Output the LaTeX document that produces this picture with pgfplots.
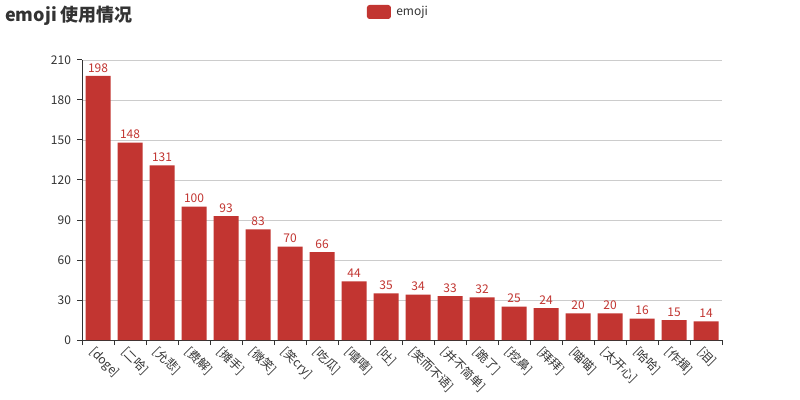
\documentclass[border=0pt]{standalone}
\usepackage{pgfplots}
\pgfplotsset{compat=1.18}
\usepackage{fontspec}
\setmainfont{Noto Sans CJK SC}
\definecolor{barred}{HTML}{C23531}
\definecolor{txt}{HTML}{333333}
\definecolor{gridc}{HTML}{CCCCCC}
\begin{document}
\begin{tikzpicture}
\useasboundingbox (0,0) rectangle (600pt,300pt);
\fill[white] (0,0) rectangle (600pt,300pt);
\node[anchor=base west, text=txt, font=\fontsize{13.5}{16}\selectfont\bfseries, inner sep=0pt] at (3.75pt,283.5pt) {emoji 使用情况};
\begin{axis}[
  at={(61.5pt,45pt)}, anchor=south west,
  scale only axis, width=480pt, height=210pt,
  xmin=-0.5, xmax=19.5, ymin=0, ymax=210,
  ytick={0,30,...,210},
  xtick={0,...,19},
  xticklabels={[doge],[二哈],[允悲],[费解],[摊手],[微笑],[笑cry],[吃瓜],[嘻嘻],[吐],[笑而不语],[并不简单],[跪了],[挖鼻],[拜拜],[喵喵],[太开心],[哈哈],[作揖],[泪]},
  minor xtick={-0.5,0.5,...,19.5},
  major x tick style={draw=none},
  minor tick length=3.75pt,
  major tick length=3.75pt,
  tick align=outside,
  axis x line*=bottom, axis y line*=left,
  axis line style={txt, line width=0.75pt},
  tick style={txt, line width=0.75pt},
  ymajorgrids, grid style={gridc, line width=0.6pt},
  x axis line style={-}, y axis line style={-},
  /pgf/number format/assume math mode=true,
  ticklabel style={font=\fontsize{9}{10}\selectfont, text=txt},
  xticklabel style={rotate=-45, anchor=north west, inner sep=1pt, xshift=-2pt},
  yticklabel style={xshift=-1pt},
  ybar, bar width=18.75pt,
  nodes near coords,
  every node near coord/.append style={font=\fontsize{9}{10}\selectfont, text=barred, inner sep=1.5pt, yshift=1pt},
  legend style={at={(0.497,1)}, anchor=center, yshift=36pt, draw=none, fill=none, font=\fontsize{9}{10}\selectfont, text=txt, inner sep=0pt, nodes={inner xsep=4pt}},
  legend image code/.code={\fill[barred, rounded corners=2pt] (0pt,-5.25pt) rectangle (18pt,5.25pt);},
]
\addplot[fill=barred, draw=none] coordinates {
(0,198) (1,148) (2,131) (3,100) (4,93) (5,83) (6,70) (7,66) (8,44) (9,35)
(10,34) (11,33) (12,32) (13,25) (14,24) (15,20) (16,20) (17,16) (18,15) (19,14)};
\addlegendentry{emoji}
\end{axis}
\end{tikzpicture}
\end{document}
